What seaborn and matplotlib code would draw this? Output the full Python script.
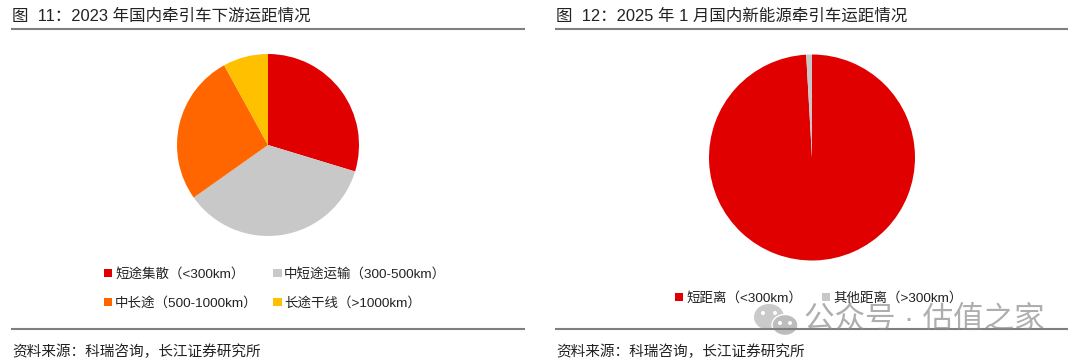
import matplotlib.pyplot as plt
from matplotlib.patches import Ellipse
import seaborn as sns

W = 1080
H = 363

title_left = "图  11：2023 年国内牵引车下游运距情况"
title_right = "图  12：2025 年 1 月国内新能源牵引车运距情况"
source = "资料来源：科瑞咨询，长江证券研究所"
watermark = "公众号 · 估值之家"

labels_left = ["短途集散（<300km）", "中短途运输（300-500km）", "中长途（500-1000km）", "长途干线（>1000km）"]
values_left = [29.7, 35.5, 26.8, 8.0]
colors_left = ["#E00000", "#C8C8C8", "#FF6600", "#FFC000"]

labels_right = ["短距离（<300km）", "其他距离（>300km）"]
values_right = [99.1, 0.9]
colors_right = ["#E00000", "#C8C8C8"]


def px_axes(fig, cx, cy, r):
    # square axes placed by pixel centre and radius
    return fig.add_axes([(cx - r) / W, 1 - (cy + r) / H, 2 * r / W, 2 * r / H])


def plot_pie(ax, values, colors):
    wedges, _ = ax.pie(values, colors=sns.color_palette(colors), startangle=90,
            counterclock=False, radius=1, wedgeprops=dict(linewidth=0))
    ax.set_xlim(-1, 1)
    ax.set_ylim(-1, 1)
    return wedges


def plot_legend(fig, handles, labels, ncol, x, y, spacing, labelspacing=1.2):
    # x, y = upper left corner in pixels
    fig.legend(handles, labels, ncol=ncol, loc="upper left",
            bbox_to_anchor=(x / W, 1 - y / H), frameon=False, fontsize=9.7,
            handlelength=0.62, handleheight=0.62, handletextpad=0.2,
            columnspacing=spacing, labelspacing=labelspacing,
            borderpad=0, borderaxespad=0, labelcolor="#222222")


def plot_frame(ax, x0, x1, title):
    for y in [29, 329]:
        ax.plot([x0, x1], [y, y], color="#7F7F7F", lw=1.5, solid_capstyle="butt")
    ax.text(x0 + 1, 16, title, fontsize=11.85, color="#222222", va="center")
    ax.text(x0 + 1, 352, source, fontsize=10.55, color="#222222", va="center")


def plot_watermark(ax):
    ax.add_patch(Ellipse((769, 317), 30, 26, color="#BDBDBD", alpha=0.8, lw=0))
    ax.add_patch(Ellipse((785, 325), 26, 21, ec="white", fc="#BDBDBD", lw=1))
    for x, y in [(763, 313), (775, 313), (780, 323), (790, 323)]:
        ax.add_patch(Ellipse((x, y), 4, 4, color="white", lw=0))
    ax.text(804, 320, watermark, fontsize=22, color="#8C8C8C", alpha=0.7, va="center")


def main():
    sns.set_theme(style="white")
    plt.rcParams["font.family"] = ["Liberation Sans", "Noto Sans CJK SC"]

    fig = plt.figure(figsize=(W / 100, H / 100), dpi=100, facecolor="white")

    wedges_left = plot_pie(px_axes(fig, 268, 145, 91), values_left, colors_left)
    wedges_right = plot_pie(px_axes(fig, 812, 157.5, 103), values_right, colors_right)

    order = [0, 2, 1, 3]
    plot_legend(fig, [wedges_left[i] for i in order], [labels_left[i] for i in order],
            2, 104, 268, 1.15)
    plot_legend(fig, wedges_right, labels_right, 2, 675, 292, 1.5)

    over = fig.add_axes([0, 0, 1, 1], facecolor="none")
    over.set_xlim(0, W)
    over.set_ylim(H, 0)
    over.axis("off")
    plot_frame(over, 11, 525, title_left)
    plot_frame(over, 555, 1068, title_right)
    plot_watermark(over)

    fig.savefig("out.png", dpi=100)


if __name__ == "__main__":
    main()
